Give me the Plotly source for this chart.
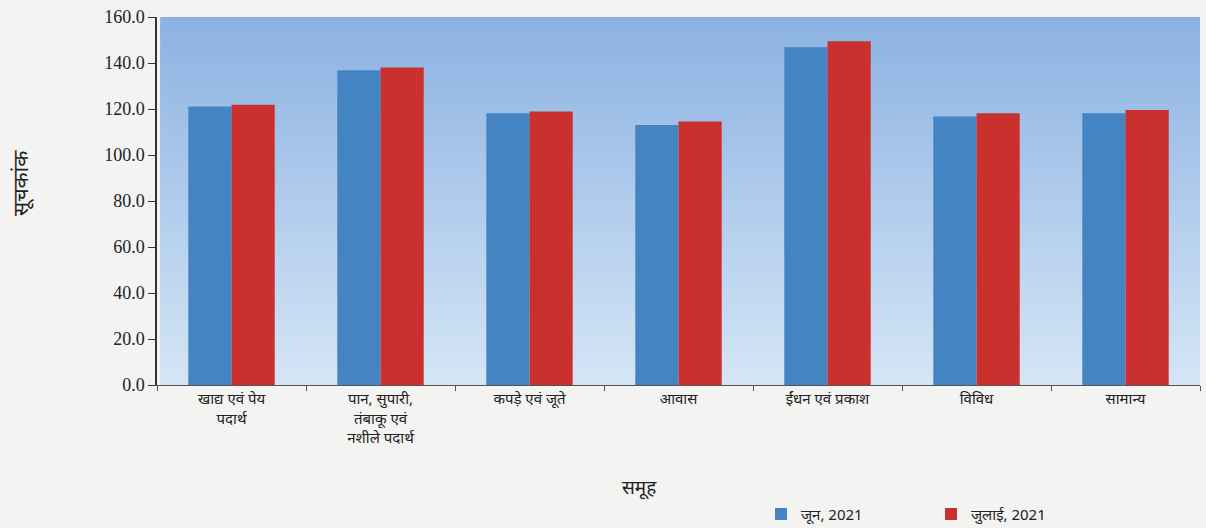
import plotly.graph_objects as go

categories = [
    "खाद्य एवं पेय<br>पदार्थ",
    "पान, सुपारी,<br>तंबाकू एवं<br>नशीले पदार्थ",
    "कपड़े एवं जूते",
    "आवास",
    "ईंधन एवं प्रकाश",
    "विविध",
    "सामान्य",
]
june_2021 = [121.1, 136.9, 118.1, 113.0, 146.9, 116.7, 118.2]
july_2021 = [121.9, 138.0, 118.9, 114.6, 149.5, 118.1, 119.6]
series_names = ["जून, 2021", "जुलाई, 2021"]
y_ticks = [0, 20, 40, 60, 80, 100, 120, 140, 160]

fig = go.Figure()
fig.add_trace(go.Bar(x=categories, y=june_2021, name=series_names[0],
                     marker=dict(color="#4584c2", line=dict(width=0))))
fig.add_trace(go.Bar(x=categories, y=july_2021, name=series_names[1],
                     marker=dict(color="#c9302e", line=dict(width=0))))

# gradient background (top darker blue -> bottom lighter)
n = 60
top = (0x8c, 0xb2, 0xe2)
bot = (0xd4, 0xe5, 0xf5)
shapes = []
for i in range(n):
    t = i / (n - 1)
    c = tuple(int(round(top[k] + (bot[k] - top[k]) * t)) for k in range(3))
    y1 = 1 - i / n
    y0 = max(0, 1 - (i + 1.6) / n)
    shapes.append(dict(type="rect", xref="paper", yref="paper", x0=0.003, x1=1,
                       y0=y0, y1=y1, fillcolor="rgb(%d,%d,%d)" % c,
                       line=dict(width=0), layer="below"))

devfont = "Noto Sans, Liberation Serif, serif"

fig.update_layout(
    width=1206, height=528,
    margin=dict(l=157, r=6, t=17, b=143),
    paper_bgcolor="#f3f3f1",
    plot_bgcolor="rgba(0,0,0,0)",
    barmode="group",
    bargap=0.42,
    bargroupgap=0,
    shapes=shapes,
    showlegend=True,
    legend=dict(orientation="h", xref="container", yref="container",
                x=0.631, y=0.026, xanchor="left", yanchor="middle",
                font=dict(family=devfont, size=15, color="#222"),
                itemwidth=30, traceorder="normal", itemsizing="constant",
                bgcolor="rgba(0,0,0,0)", entrywidthmode="pixels", entrywidth=125),
    annotations=[
        dict(text="समूह", x=0.463, y=-0.277, xref="paper", yref="paper",
             xanchor="center", yanchor="middle",
             showarrow=False, font=dict(family=devfont, size=19, color="#222")),
        dict(text="सूचकांक", x=-0.132, y=0.55, xref="paper", yref="paper",
             xanchor="center", yanchor="middle",
             showarrow=False, textangle=-90, font=dict(family=devfont, size=21, color="#222")),
    ],
    font=dict(family="Liberation Serif, serif", color="#222"),
)
fig.update_xaxes(
    showline=True, linecolor="#555", linewidth=1,
    ticks="outside", tickson="boundaries", ticklen=5, tickcolor="#555",
    tickfont=dict(family=devfont, size=15, color="#222"),
    showgrid=False, tickangle=0,
)
fig.update_yaxes(
    range=[0, 160], tickvals=y_ticks, ticktext=["%.1f" % v for v in y_ticks],
    showline=True, linecolor="#333", linewidth=1.5,
    ticks="outside", ticklen=7, tickcolor="#333",
    tickfont=dict(family="Liberation Serif, serif", size=18, color="#222"),
    showgrid=False, zeroline=False,
)
fig.write_html("out.html", config={"displayModeBar": False},
               post_script="document.body.style.margin='0';")
